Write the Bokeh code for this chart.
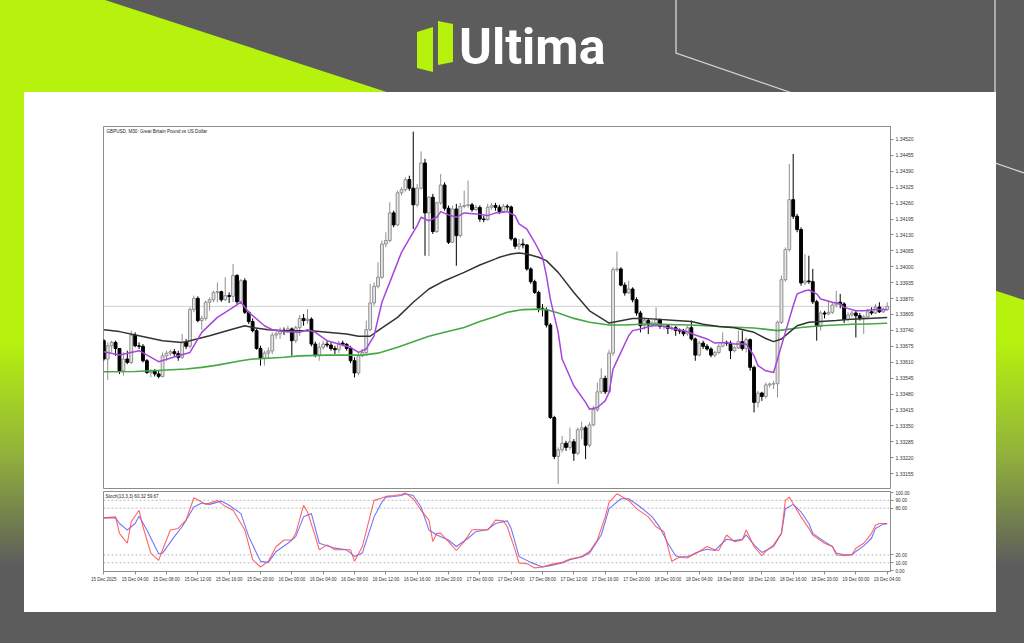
from urllib.parse import quote
from bokeh.plotting import figure
from bokeh.models import (Range1d, FixedTicker, PrintfTickFormatter, Span, Label, Div, Spacer,
                          ColumnDataSource)
from bokeh.layouts import column, row
from bokeh.embed import file_html
from bokeh.resources import INLINE

# ---------------- data (GBPUSD M30, 15 Dec 00:00 -> 19 Dec 04:00) ----------------
open_ = [
1.33698, 1.33623, 1.33677, 1.33691, 1.33666, 1.33575, 1.33623, 1.33609, 1.33721, 1.33677,
1.33675, 1.33616, 1.33568, 1.33574, 1.33562, 1.33552, 1.33636, 1.33647, 1.33653, 1.33645,
1.33630, 1.33691, 1.33675, 1.33825, 1.33871, 1.33780, 1.33789, 1.33855, 1.33865, 1.33895,
1.33898, 1.33865, 1.33882, 1.33879, 1.33964, 1.33857, 1.33943, 1.33814, 1.33776, 1.33739,
1.33666, 1.33626, 1.33647, 1.33656, 1.33721, 1.33726, 1.33740, 1.33735, 1.33746, 1.33698,
1.33751, 1.33789, 1.33780, 1.33786, 1.33684, 1.33639, 1.33671, 1.33684, 1.33680, 1.33666,
1.33661, 1.33688, 1.33683, 1.33666, 1.33616, 1.33566, 1.33636, 1.33650, 1.33743, 1.33852,
1.33920, 1.33957, 1.34093, 1.34107, 1.34220, 1.34171, 1.34302, 1.34315, 1.34356, 1.34321,
1.34253, 1.34321, 1.34424, 1.34220, 1.34284, 1.34144, 1.34261, 1.34334, 1.34239, 1.34100,
1.34236, 1.34127, 1.34247, 1.34250, 1.34253, 1.34233, 1.34242, 1.34195, 1.34193, 1.34243,
1.34250, 1.34243, 1.34225, 1.34247, 1.34244, 1.34114, 1.34084, 1.34093, 1.34089, 1.33991,
1.33939, 1.33895, 1.33830, 1.33825, 1.33762, 1.33384, 1.33225, 1.33252, 1.33279, 1.33262,
1.33285, 1.33238, 1.33334, 1.33342, 1.33271, 1.33354, 1.33416, 1.33489, 1.33544, 1.33489,
1.33647, 1.33988, 1.33991, 1.33925, 1.33893, 1.33909, 1.33865, 1.33811, 1.33759, 1.33780,
1.33762, 1.33770, 1.33784, 1.33756, 1.33759, 1.33748, 1.33751, 1.33740, 1.33737, 1.33726,
1.33751, 1.33705, 1.33639, 1.33688, 1.33675, 1.33664, 1.33639, 1.33650, 1.33675, 1.33691,
1.33688, 1.33657, 1.33669, 1.33694, 1.33666, 1.33702, 1.33589, 1.33446, 1.33484, 1.33470,
1.33517, 1.33521, 1.33522, 1.33773, 1.33947, 1.34070, 1.34274, 1.34206, 1.34152, 1.33934,
1.33942, 1.33939, 1.33857, 1.33756, 1.33811, 1.33807, 1.33814, 1.33844, 1.33855, 1.33848,
1.33784, 1.33803, 1.33811, 1.33800, 1.33789, 1.33795, 1.33816, 1.33811, 1.33835, 1.33816,
1.33825]

high = [
1.33705, 1.33691, 1.33698, 1.33698, 1.33666, 1.33650, 1.33657, 1.33739, 1.33732, 1.33691,
1.33684, 1.33623, 1.33582, 1.33582, 1.33575, 1.33650, 1.33657, 1.33661, 1.33664, 1.33657,
1.33725, 1.33705, 1.33834, 1.33882, 1.33879, 1.33800, 1.33861, 1.33875, 1.33902, 1.33936,
1.33902, 1.33957, 1.33895, 1.34011, 1.33970, 1.33950, 1.33953, 1.33820, 1.33789, 1.33746,
1.33677, 1.33657, 1.33671, 1.33732, 1.33743, 1.33752, 1.33752, 1.33759, 1.33752, 1.33759,
1.33803, 1.33807, 1.33827, 1.33793, 1.33694, 1.33691, 1.33698, 1.33698, 1.33691, 1.33677,
1.33698, 1.33698, 1.33688, 1.33677, 1.33630, 1.33650, 1.33664, 1.33780, 1.33930, 1.33936,
1.34018, 1.34107, 1.34141, 1.34263, 1.34229, 1.34311, 1.34325, 1.34366, 1.34372, 1.34552,
1.34338, 1.34471, 1.34441, 1.34288, 1.34298, 1.34266, 1.34379, 1.34345, 1.34250, 1.34250,
1.34257, 1.34261, 1.34311, 1.34352, 1.34261, 1.34253, 1.34250, 1.34209, 1.34257, 1.34261,
1.34261, 1.34253, 1.34257, 1.34255, 1.34250, 1.34120, 1.34114, 1.34114, 1.34093, 1.33998,
1.33947, 1.33902, 1.33848, 1.33834, 1.33770, 1.33391, 1.33262, 1.33309, 1.33289, 1.33343,
1.33296, 1.33343, 1.33367, 1.33350, 1.33364, 1.33432, 1.33527, 1.33585, 1.33555, 1.33661,
1.33998, 1.34062, 1.33998, 1.33936, 1.33943, 1.33916, 1.33875, 1.33820, 1.33793, 1.33789,
1.33780, 1.33834, 1.33789, 1.33766, 1.33762, 1.33759, 1.33759, 1.33748, 1.33746, 1.33759,
1.33780, 1.33711, 1.33698, 1.33698, 1.33684, 1.33671, 1.33657, 1.33684, 1.33732, 1.33698,
1.33698, 1.33677, 1.33739, 1.33739, 1.33711, 1.33707, 1.33596, 1.33493, 1.33489, 1.33527,
1.33527, 1.33534, 1.33780, 1.33964, 1.34079, 1.34420, 1.34461, 1.34216, 1.34161, 1.34052,
1.34045, 1.33991, 1.33865, 1.33820, 1.33820, 1.33861, 1.33855, 1.33902, 1.33889, 1.33855,
1.33814, 1.33820, 1.33820, 1.33811, 1.33803, 1.33827, 1.33834, 1.33848, 1.33855, 1.33834,
1.33855]

low = [
1.33616, 1.33538, 1.33650, 1.33636, 1.33562, 1.33555, 1.33602, 1.33602, 1.33671, 1.33664,
1.33609, 1.33562, 1.33548, 1.33552, 1.33544, 1.33548, 1.33616, 1.33636, 1.33634, 1.33616,
1.33623, 1.33664, 1.33666, 1.33814, 1.33773, 1.33743, 1.33780, 1.33820, 1.33855, 1.33855,
1.33857, 1.33861, 1.33852, 1.33855, 1.33848, 1.33852, 1.33807, 1.33766, 1.33732, 1.33661,
1.33596, 1.33596, 1.33623, 1.33643, 1.33705, 1.33705, 1.33721, 1.33729, 1.33636, 1.33688,
1.33718, 1.33759, 1.33766, 1.33675, 1.33630, 1.33616, 1.33661, 1.33671, 1.33657, 1.33643,
1.33647, 1.33675, 1.33657, 1.33606, 1.33548, 1.33557, 1.33630, 1.33636, 1.33735, 1.33841,
1.33912, 1.33950, 1.34079, 1.34100, 1.34161, 1.34165, 1.34291, 1.34307, 1.34311, 1.34154,
1.34243, 1.34315, 1.34045, 1.34043, 1.34134, 1.34138, 1.34253, 1.34229, 1.34093, 1.34097,
1.34004, 1.34120, 1.34239, 1.34242, 1.34225, 1.34228, 1.34184, 1.34182, 1.34188, 1.34233,
1.34229, 1.34216, 1.34220, 1.34229, 1.34107, 1.34073, 1.34070, 1.34075, 1.33984, 1.33930,
1.33889, 1.33814, 1.33797, 1.33752, 1.33378, 1.33214, 1.33112, 1.33241, 1.33248, 1.33252,
1.33207, 1.33230, 1.33296, 1.33214, 1.33262, 1.33348, 1.33407, 1.33480, 1.33480, 1.33484,
1.33636, 1.33980, 1.33920, 1.33882, 1.33889, 1.33855, 1.33800, 1.33732, 1.33743, 1.33725,
1.33752, 1.33762, 1.33746, 1.33743, 1.33725, 1.33739, 1.33718, 1.33725, 1.33716, 1.33718,
1.33698, 1.33616, 1.33634, 1.33664, 1.33657, 1.33630, 1.33630, 1.33643, 1.33671, 1.33677,
1.33623, 1.33650, 1.33664, 1.33657, 1.33650, 1.33575, 1.33405, 1.33425, 1.33452, 1.33462,
1.33507, 1.33500, 1.33466, 1.33766, 1.33939, 1.34062, 1.34195, 1.34141, 1.33923, 1.33925,
1.33930, 1.33848, 1.33698, 1.33739, 1.33789, 1.33803, 1.33807, 1.33834, 1.33830, 1.33770,
1.33776, 1.33793, 1.33711, 1.33780, 1.33725, 1.33789, 1.33803, 1.33807, 1.33811, 1.33811,
1.33820]

close_ = [
1.33623, 1.33677, 1.33691, 1.33666, 1.33575, 1.33623, 1.33609, 1.33721, 1.33677, 1.33675,
1.33616, 1.33568, 1.33574, 1.33562, 1.33552, 1.33636, 1.33647, 1.33653, 1.33645, 1.33630,
1.33691, 1.33675, 1.33825, 1.33871, 1.33780, 1.33789, 1.33855, 1.33865, 1.33895, 1.33898,
1.33865, 1.33882, 1.33879, 1.33964, 1.33857, 1.33943, 1.33814, 1.33776, 1.33739, 1.33666,
1.33626, 1.33647, 1.33656, 1.33721, 1.33726, 1.33740, 1.33735, 1.33746, 1.33698, 1.33751,
1.33789, 1.33780, 1.33786, 1.33684, 1.33639, 1.33671, 1.33684, 1.33680, 1.33666, 1.33661,
1.33688, 1.33683, 1.33666, 1.33616, 1.33566, 1.33636, 1.33650, 1.33743, 1.33852, 1.33920,
1.33957, 1.34093, 1.34107, 1.34220, 1.34171, 1.34302, 1.34315, 1.34356, 1.34321, 1.34253,
1.34321, 1.34424, 1.34220, 1.34284, 1.34144, 1.34261, 1.34334, 1.34239, 1.34100, 1.34236,
1.34127, 1.34247, 1.34250, 1.34253, 1.34233, 1.34242, 1.34195, 1.34193, 1.34243, 1.34250,
1.34243, 1.34225, 1.34247, 1.34244, 1.34114, 1.34084, 1.34093, 1.34089, 1.33991, 1.33939,
1.33895, 1.33830, 1.33825, 1.33762, 1.33384, 1.33225, 1.33252, 1.33279, 1.33262, 1.33285,
1.33238, 1.33334, 1.33342, 1.33271, 1.33354, 1.33416, 1.33489, 1.33544, 1.33489, 1.33647,
1.33988, 1.33991, 1.33925, 1.33893, 1.33909, 1.33865, 1.33811, 1.33759, 1.33780, 1.33762,
1.33770, 1.33784, 1.33756, 1.33759, 1.33748, 1.33751, 1.33740, 1.33737, 1.33726, 1.33751,
1.33705, 1.33639, 1.33688, 1.33675, 1.33664, 1.33639, 1.33650, 1.33675, 1.33691, 1.33688,
1.33657, 1.33669, 1.33694, 1.33666, 1.33702, 1.33589, 1.33446, 1.33484, 1.33470, 1.33517,
1.33521, 1.33522, 1.33773, 1.33947, 1.34070, 1.34274, 1.34206, 1.34152, 1.33934, 1.33942,
1.33939, 1.33857, 1.33756, 1.33811, 1.33807, 1.33814, 1.33844, 1.33855, 1.33848, 1.33784,
1.33803, 1.33811, 1.33800, 1.33789, 1.33795, 1.33816, 1.33811, 1.33835, 1.33816, 1.33825,
1.33838]

# moving averages (read at sampled bars)
ma_fast_x = [0,4,9,14,19,22,25,29,33,35,37,41,43,46,50,52,54,57,60,63,65,67,69,71,74,76,78,80,81,83,
             85,86,88,90,92,95,98,100,103,105,106,108,110,112,113,114,116,117,120,123,124,126,128,129,130,
             132,134,135,137,140,142,145,147,149,151,154,156,159,161,164,166,167,169,171,172,174,176,177,
             179,180,182,183,186,188,189,192,194,197,200]
ma_fast_y = [1.33653,1.33639,1.33657,1.33612,1.33636,1.33650,1.33732,1.33793,1.33834,1.33855,
             1.33814,1.33759,1.33743,1.33735,1.33732,1.33743,1.33732,1.33698,1.33684,1.33671,
             1.33650,1.33664,1.33718,1.33855,1.33977,1.34059,1.34114,1.34168,1.34202,1.34188,
             1.34202,1.34225,1.34212,1.34202,1.34220,1.34216,1.34209,1.34220,1.34225,1.34209,
             1.34175,1.34154,1.34100,1.34039,1.33964,1.33868,1.33732,1.33623,1.33514,1.33446,
             1.33418,1.33425,1.33452,1.33487,1.33582,1.33650,1.33718,1.33739,1.33746,1.33759,
             1.33759,1.33748,1.33743,1.33735,1.33721,1.33705,1.33688,1.33691,1.33684,1.33684,
             1.33636,1.33596,1.33575,1.33568,1.33623,1.33732,1.33841,1.33889,1.33902,1.33905,
             1.33889,1.33868,1.33855,1.33848,1.33834,1.33820,1.33820,1.33825,1.33825]

ma_mid_x = [0,4,9,15,20,22,27,33,36,38,42,46,50,53,57,62,65,68,70,75,79,83,87,92,96,100,101,104,106,108,
            111,113,116,120,124,128,129,131,135,138,141,146,150,153,157,161,166,169,171,173,175,177,180,
            183,187,191,195,200]
ma_mid_y = [1.33743,1.33735,1.33718,1.33698,1.33691,1.33698,1.33718,1.33746,1.33759,1.33752,
            1.33743,1.33739,1.33739,1.33739,1.33732,1.33725,1.33716,1.33716,1.33739,1.33793,
            1.33855,1.33909,1.33943,1.33977,1.34007,1.34032,1.34039,1.34052,1.34056,1.34052,
            1.34039,1.34025,1.33977,1.33895,1.33820,1.33780,1.33770,1.33776,1.33789,1.33789,
            1.33786,1.33780,1.33776,1.33765,1.33756,1.33751,1.33732,1.33707,1.33694,1.33705,
            1.33732,1.33759,1.33773,1.33776,1.33780,1.33786,1.33789,1.33793]

ma_slow_x = [0,8,16,21,25,29,35,38,42,46,50,57,66,70,75,79,83,87,92,96,100,103,107,111,113,116,120,124,
             129,133,137,141,146,150,157,166,172,174,178,183,187,191,195,200]
ma_slow_y = [1.33571,1.33572,1.33578,1.33582,1.33589,1.33598,1.33616,1.33623,1.33626,1.33630,
             1.33636,1.33639,1.33639,1.33647,1.33671,1.33694,1.33716,1.33732,1.33752,1.33776,
             1.33797,1.33814,1.33825,1.33827,1.33825,1.33811,1.33789,1.33773,1.33762,1.33762,
             1.33765,1.33766,1.33763,1.33762,1.33756,1.33750,1.33739,1.33743,1.33752,1.33759,
             1.33762,1.33765,1.33766,1.33769]

# stochastic (13,3,3)
k_x = [0,3,4,6,7,9,10,12,14,15,17,19,21,23,25,26,29,31,33,36,38,40,42,44,46,48,49,51,52,54,55,57,59,60,
       63,64,66,69,71,72,74,76,77,79,81,83,84,85,86,88,90,92,94,95,98,100,102,103,105,106,108,110,112,
       114,117,119,122,124,126,128,129,131,134,136,139,141,143,144,145,147,149,151,152,154,156,157,159,
       161,163,164,166,168,169,171,173,174,175,176,178,180,181,184,186,187,189,191,192,194,196,197,198,200]
k_y = [67.5,68.8,47.7,35.0,62.5,77.2,56.1,22.4,13.1,26.6,51.9,54.0,64.6,93.3,87.8,84.8,89.9,82.3,77.2,
       51.9,13.9,4.6,11.8,30.8,39.2,39.2,47.7,83.6,75.1,43.5,26.6,32.9,26.6,26.6,26.6,11.8,30.8,89.9,93.0,
       95.0,96.2,97.5,99.2,92.0,77.2,64.6,37.1,47.7,47.7,37.1,25.7,37.1,51.9,52.7,51.9,64.6,63.7,56.1,26.6,
       9.7,8.9,3.4,4.6,7.6,10.5,14.8,18.1,24.5,39.2,68.8,87.8,98.3,89.9,79.3,68.8,56.1,49.8,30.8,11.8,17.3,
       16.0,22.4,24.5,30.8,26.6,25.7,45.6,37.1,39.2,51.9,30.8,19.0,24.5,32.9,47.7,89.9,94.1,85.7,68.8,54.0,
       45.6,35.0,30.8,20.3,19.0,20.3,28.7,35.0,47.7,58.2,60.3,60.3]
d_x = [0,3,4,6,8,9,11,14,15,18,20,23,25,27,30,32,35,37,40,42,44,47,49,51,53,55,59,62,64,66,69,71,72,74,
       76,77,79,81,83,85,88,90,93,95,98,100,103,104,106,109,112,114,117,119,122,124,127,129,132,134,137,
       140,142,144,146,147,149,151,152,154,156,157,159,161,163,164,166,168,169,171,173,174,176,178,180,
       181,184,186,187,189,191,192,194,196,197,199,200]
d_y = [67.5,67.5,60.3,51.9,60.3,69.6,51.9,21.5,22.4,43.5,56.1,81.4,86.5,84.8,89.0,83.6,73.0,43.5,11.8,
       10.5,24.5,35.0,43.5,68.8,73.0,35.0,28.7,26.6,18.1,22.4,68.8,87.8,94.1,94.9,96.2,98.3,96.2,81.4,51.9,
       45.6,39.2,30.8,41.4,49.8,52.7,60.3,63.7,54.0,18.1,10.5,4.6,6.3,9.7,13.9,17.3,22.4,45.6,79.3,92.0,
       92.0,81.4,68.8,55.0,35.0,19.0,17.3,18.1,21.5,24.5,27.4,25.7,30.8,40.1,38.4,40.1,45.6,32.9,23.2,25.7,
       30.8,47.7,79.3,84.8,75.1,60.3,47.7,37.1,30.8,22.4,20.3,20.3,24.5,31.6,41.4,54.0,59.5,59.7]
stoch_levels = [10, 20, 80, 90]
stoch_ticks = [0, 10, 20, 80, 90, 100]

price_ticks = [1.34520, 1.34455, 1.34390, 1.34325, 1.34260, 1.34195, 1.34130, 1.34065, 1.34000,
               1.33935, 1.33870, 1.33805, 1.33740, 1.33675, 1.33610, 1.33545, 1.33480, 1.33415,
               1.33350, 1.33285, 1.33220, 1.33155]

date_labels = ["15 Dec 2025", "15 Dec 04:00", "15 Dec 08:00", "15 Dec 12:00", "15 Dec 16:00",
               "15 Dec 20:00", "16 Dec 00:00", "16 Dec 04:00", "16 Dec 08:00", "16 Dec 12:00",
               "16 Dec 16:00", "16 Dec 20:00", "17 Dec 00:00", "17 Dec 04:00", "17 Dec 08:00",
               "17 Dec 12:00", "17 Dec 16:00", "17 Dec 20:00", "18 Dec 00:00", "18 Dec 04:00",
               "18 Dec 08:00", "18 Dec 12:00", "18 Dec 16:00", "18 Dec 20:00", "19 Dec 00:00",
               "19 Dec 04:00"]
bars_per_label = 8

chart_title = "GBPUSD, M30:  Great Britain Pound vs US Dollar"
stoch_title = "Stoch(13,3,3) 60.32 59.67"

# ---------------- styling ----------------
FONT = "Liberation Sans"
FRAME = "#8c8c8c"
BULL_FILL, BULL_LINE = "#e6e6e6", "#8f8f8f"
BEAR = "#000000"

bars = list(range(len(close_)))
up = [c >= o for o, c in zip(open_, close_)]


def cds(sel):
    idx = [i for i in bars if sel(i)]
    return ColumnDataSource(dict(
        x=idx,
        top=[max(open_[i], close_[i]) for i in idx],
        bottom=[min(open_[i], close_[i]) for i in idx],
        high=[high[i] for i in idx],
        low=[low[i] for i in idx]))


src_up = cds(lambda i: up[i])
src_dn = cds(lambda i: not up[i])

xr = Range1d(-0.08, 200.84)

p = figure(width=972, height=398, x_range=xr, y_range=Range1d(1.33094, 1.34573),
           x_axis_location=None, y_axis_location="right", toolbar_location=None,
           output_backend="svg", title=None,
           min_border_left=79, min_border_right=106, min_border_top=34, min_border_bottom=2,
           background_fill_color="white", border_fill_color="white",
           outline_line_color=FRAME, outline_line_width=1)
p.grid.visible = False

p.add_layout(Span(location=close_[-1], dimension="width", line_color="#d2d2d2",
                  line_width=1, level="underlay"))

p.segment(x0="x", y0="low", x1="x", y1="high", source=src_up, line_color=BULL_LINE, line_width=1)
p.segment(x0="x", y0="low", x1="x", y1="high", source=src_dn, line_color=BEAR, line_width=1)
p.vbar(x="x", top="top", bottom="bottom", width=0.72, source=src_up,
       fill_color=BULL_FILL, line_color=BULL_LINE, line_width=1)
p.vbar(x="x", top="top", bottom="bottom", width=0.72, source=src_dn,
       fill_color=BEAR, line_color=BEAR, line_width=1)

p.line(ma_slow_x, ma_slow_y, line_color="#45a845", line_width=1.6, line_join="round")
p.line(ma_mid_x, ma_mid_y, line_color="#333333", line_width=1.5, line_join="round")
p.line(ma_fast_x, ma_fast_y, line_color="#a845dc", line_width=1.5, line_join="round")

ya = p.yaxis[0]
ya.ticker = FixedTicker(ticks=price_ticks)
ya.formatter = PrintfTickFormatter(format="%.5f")
ya.major_label_text_font_size = "5px"
ya.major_label_text_font = FONT
ya.major_label_text_color = "#333333"
ya.major_tick_out = 3
ya.major_tick_in = 0
ya.minor_tick_out = 0
ya.minor_tick_in = 0
ya.major_label_standoff = 2
ya.axis_line_color = FRAME
ya.major_tick_line_color = FRAME

p.add_layout(Label(x=3, y=360, x_units="screen", y_units="screen", text=chart_title,
                   text_font=FONT, text_font_size="4.6px", text_color="#222222",
                   text_baseline="top"))
p.add_layout(Label(x=789, y=close_[-1], x_units="screen", y_units="data",
                   text=f"{close_[-1]:.5f}", text_font=FONT, text_font_size="5px",
                   text_color="#ffffff", text_baseline="middle",
                   background_fill_color="#c4c4c4"))

# ---------------- stochastic pane ----------------
s = figure(width=972, height=122, x_range=xr, y_range=Range1d(-1.2, 101.3),
           y_axis_location="right", toolbar_location=None, output_backend="svg", title=None,
           min_border_left=79, min_border_right=106, min_border_top=1, min_border_bottom=41,
           background_fill_color="white", border_fill_color="white",
           outline_line_color=FRAME, outline_line_width=1)
s.grid.visible = False
for lv in stoch_levels:
    s.add_layout(Span(location=lv, dimension="width", line_color="#bdbdbd",
                      line_width=1, line_dash="2 2", level="underlay"))
s.line(d_x, d_y, line_color="#5c5cff", line_width=1.1, line_alpha=0.85)
s.line(k_x, k_y, line_color="#ff4a4a", line_width=1.1, line_alpha=0.85)

sy = s.yaxis[0]
sy.ticker = FixedTicker(ticks=stoch_ticks)
sy.formatter = PrintfTickFormatter(format="%.2f")
sy.major_label_text_font_size = "4.6px"
sy.major_label_text_font = FONT
sy.major_label_text_color = "#333333"
sy.major_tick_out = 3
sy.major_tick_in = 0
sy.minor_tick_out = 0
sy.minor_tick_in = 0
sy.major_label_standoff = 2
sy.axis_line_color = FRAME
sy.major_tick_line_color = FRAME

date_ticks = [k * bars_per_label for k in range(len(date_labels))]
sx = s.xaxis[0]
sx.ticker = FixedTicker(ticks=date_ticks)
sx.major_label_overrides = {t: lab for t, lab in zip(date_ticks, date_labels)}
sx.major_label_text_font_size = "4.5px"
sx.major_label_text_font = FONT
sx.major_label_text_color = "#333333"
sx.major_tick_out = 3
sx.major_tick_in = 0
sx.minor_tick_out = 0
sx.minor_tick_in = 0
sx.major_label_standoff = 2
sx.axis_line_color = FRAME
sx.major_tick_line_color = FRAME

s.add_layout(Label(x=2, y=78, x_units="screen", y_units="screen", text=stoch_title,
                   text_font=FONT, text_font_size="4.6px", text_color="#222222",
                   text_baseline="top"))

# ---------------- branded background ----------------
LIME = "#b6f20e"
GRAY = "#5c5c5c"
W, H = 1024, 643
svg = (
    f"<svg xmlns='http://www.w3.org/2000/svg' width='{W}' height='{H}' viewBox='0 0 {W} {H}'>"
    "<defs><linearGradient id='g' gradientUnits='userSpaceOnUse' x1='0' y1='0' x2='0' y2='643'>"
    f"<stop offset='0' stop-color='{LIME}'/><stop offset='0.53' stop-color='{LIME}'/>"
    "<stop offset='0.70' stop-color='#93b43a'/><stop offset='0.88' stop-color='" + GRAY + "'/>"
    "</linearGradient></defs>"
    f"<rect x='0' y='0' width='{W}' height='{H}' fill='{GRAY}'/>"
    "<polygon points='105,0 1024,300 1024,643 0,643 0,0' fill='url(#g)'/>"
    "<polyline points='676,0 676,53 1024,173' fill='none' stroke='#d6d6d6' stroke-width='1.3'/>"
    "<line x1='995' y1='0' x2='995' y2='163' stroke='#d6d6d6' stroke-width='1.3'/>"
    f"<polygon points='417,32 433,27 433,72 417,68' fill='{LIME}'/>"
    f"<polygon points='438,21 453,24 453,62 438,65' fill='{LIME}'/>"
    "</svg>"
)
bg_styles = {
    "background-color": GRAY,
    "background-image": f'url("data:image/svg+xml,{quote(svg)}")',
    "background-repeat": "no-repeat",
    "background-size": f"{W}px {H}px",
}

header = Div(
    text=("<div style='position:relative;width:1024px;height:92px;'>"
          "<span style='position:absolute;left:459px;top:22px;font-family:Roboto;"
          "font-weight:700;font-size:50px;line-height:50px;color:#ffffff;white-space:nowrap;'>"
          "Ultima</span></div>"),
    width=W, height=92, margin=0)

panel = column(p, s, spacing=0, margin=0, styles={"background-color": "#ffffff"})
mid = row(Spacer(width=24, height=520, margin=0), panel, Spacer(width=28, height=520, margin=0),
          spacing=0, margin=0)
root = column(header, mid, Spacer(width=W, height=31, margin=0), spacing=0, margin=0,
              width=W, height=H, styles=bg_styles)

open("out.html", "w").write(file_html(root, INLINE, title="GBPUSD M30"))
